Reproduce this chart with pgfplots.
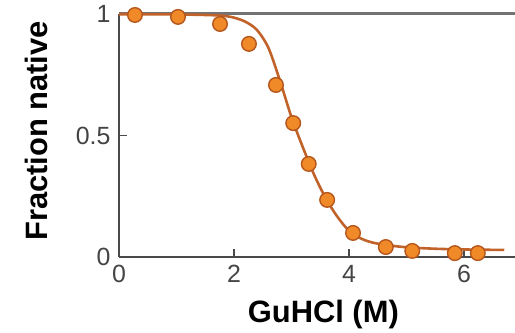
\documentclass[border=0pt]{standalone}
\usepackage{pgfplots}
\pgfplotsset{compat=1.18}
\usepackage{fontspec}
\setmainfont{Liberation Sans}
\definecolor{ptfill}{HTML}{F08A28}
\definecolor{ptedge}{HTML}{B5561C}
\definecolor{fitc}{HTML}{C0622A}
\definecolor{axc}{HTML}{4A4A4A}
\definecolor{tickc}{HTML}{444444}
\begin{document}
\begin{tikzpicture}
\useasboundingbox (-119bp,-76bp) rectangle (396bp,257bp);
\begin{axis}[
  scale only axis,
  width=396bp, height=243bp,
  anchor=south west, at={(0,0)},
  xmin=0, xmax=6.887, ymin=0, ymax=1,
  axis x line*=bottom, axis y line*=left,
  axis line style={axc, line width=1.6bp, -},
  clip=false,
  tick align=inside,
  major tick length=8bp,
  tick style={axc, line width=1.4bp},
  xtick={0,2,4,6},
  ytick={0,0.5,1},
  yticklabels={0,0.5,1},
  xticklabels={0,2,4,6},
  ticklabel style={font=\fontsize{25}{30}\selectfont, text=tickc},
  yticklabel style={xshift=-5bp},
  xticklabel style={yshift=-5bp},
  xlabel={\textbf{GuHCl (M)}},
  ylabel={\textbf{Fraction native}},
  xlabel style={font=\fontsize{31}{36}\selectfont, at={(axis description cs:0.516,-0.2675)}, anchor=base},
  ylabel style={font=\fontsize{31}{36}\selectfont, at={(axis description cs:-0.2096,0.5185)}, anchor=center},
]
\addplot[black!55, line width=3bp, no marks, forget plot] coordinates {(0,1) (7.3,1)};
\addplot[fitc, line width=2.6bp, smooth, tension=0.5, no marks] coordinates {
(0,0.999) (1.0,0.998) (1.5,0.996) (1.8,0.993) (2.0,0.985) (2.2,0.968) (2.4,0.934)
(2.6,0.86) (2.8,0.725) (3.0,0.575) (3.2,0.45) (3.4,0.335) (3.6,0.24) (3.8,0.165)
(4.0,0.108) (4.2,0.077) (4.4,0.060) (4.63,0.050) (5.0,0.040) (5.5,0.034) (6.0,0.031) (6.7,0.029)
};
\addplot[only marks, mark=*, mark size=7.3bp, mark options={fill=ptfill, draw=ptedge, line width=1.4bp}] coordinates {
(0.278,0.996) (1.026,0.988) (1.757,0.959) (2.26,0.877) (2.73,0.708) (3.03,0.551)
(3.30,0.383) (3.62,0.235) (4.07,0.099) (4.64,0.041) (5.10,0.025) (5.84,0.016) (6.24,0.016)
};
\end{axis}
\end{tikzpicture}
\end{document}
